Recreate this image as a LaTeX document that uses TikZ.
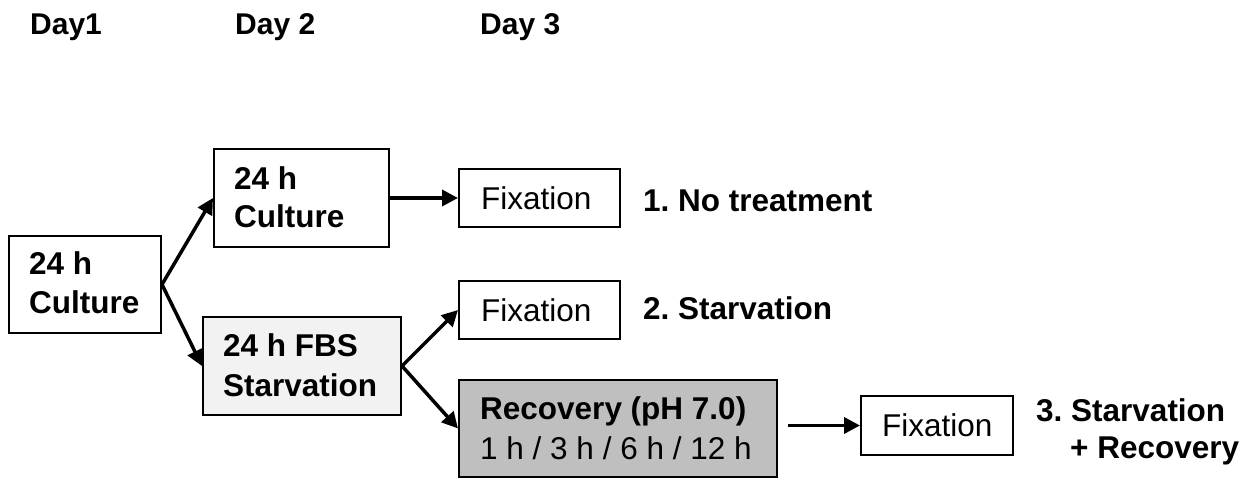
\documentclass[tikz,border=0pt]{standalone}
\usepackage{fontspec}
\setmainfont{Liberation Sans}
\usetikzlibrary{arrows.meta}
\definecolor{lightfill}{HTML}{F2F2F2}
\definecolor{midfill}{HTML}{BFBFBF}
\tikzset{
  box/.style={draw=black, line width=2pt, inner sep=0pt},
  txt/.style={anchor=base west, inner sep=0pt, font=\bfseries\fontsize{31.5}{39}\selectfont},
  rtxt/.style={anchor=base west, inner sep=0pt, font=\fontsize{31.5}{39}\selectfont},
  daylbl/.style={anchor=base west, inner sep=0pt, font=\bfseries\fontsize{30}{36}\selectfont},
  arr/.style={line width=3.5pt, -{Triangle[length=16pt,width=16pt]}},
}
\begin{document}
\frenchspacing
\begin{tikzpicture}[x=1pt,y=-1pt]
\useasboundingbox (0,0) rectangle (1254,478);
% day labels
\node[daylbl] (d1) at (30,35) {Day1};
\node[daylbl] (d2) at (235,35) {Day 2};
\node[daylbl] (d3) at (480,35) {Day 3};
% boxes
\node[box, minimum width=152pt, minimum height=97pt] (A) at (85,284.5) {};
\node[box, minimum width=175pt, minimum height=98pt] (B) at (301.5,198) {};
\node[box, fill=lightfill, minimum width=198pt, minimum height=98pt] (C) at (302,366) {};
\node[box, minimum width=161pt, minimum height=58pt] (F1) at (539.5,198) {};
\node[box, minimum width=161pt, minimum height=58pt] (F2) at (539.5,310) {};
\node[box, fill=midfill, minimum width=318pt, minimum height=97pt] (R) at (618,428.5) {};
\node[box, minimum width=152pt, minimum height=59pt] (F3) at (937,425.5) {};
% box texts
\node[txt] (ta1) at (29,275) {24 h};
\node[txt] (ta2) at (29,314) {Culture};
\node[txt] (tb1) at (234,190) {24 h};
\node[txt] (tb2) at (234,228) {Culture};
\node[txt] (tc1) at (223,357) {24 h FBS};
\node[txt] (tc2) at (223,397) {Starvation};
\node[rtxt] (tf1) at (481,210) {Fixation};
\node[rtxt] (tf2) at (481,322) {Fixation};
\node[txt] (tr1) at (480,420) {Recovery (pH 7.0)};
\node[rtxt] (tr2) at (480,460) {1 h / 3 h / 6 h / 12 h};
\node[rtxt] (tf3) at (882,437) {Fixation};
% outcome labels
\node[txt] (l1) at (643,212) {1. No treatment};
\node[txt] (l2) at (643,320) {2. Starvation};
\node[txt] (l3a) at (1036,421) {3. Starvation};
\node[txt] (l3b) at (1070,458) {+ Recovery};
% arrows
\draw[arr] (A.east) -- (B.west);
\draw[arr] (A.east) -- (C.west);
\draw[arr] (B.east) -- (F1.west);
\draw[arr] (C.east) -- (F2.west);
\draw[arr] (C.east) -- (R.west);
\coordinate (rs) at ([xshift=10pt]R.east |- F3.west);
\draw[arr] (rs) -- (F3.west);
\end{tikzpicture}
\end{document}
